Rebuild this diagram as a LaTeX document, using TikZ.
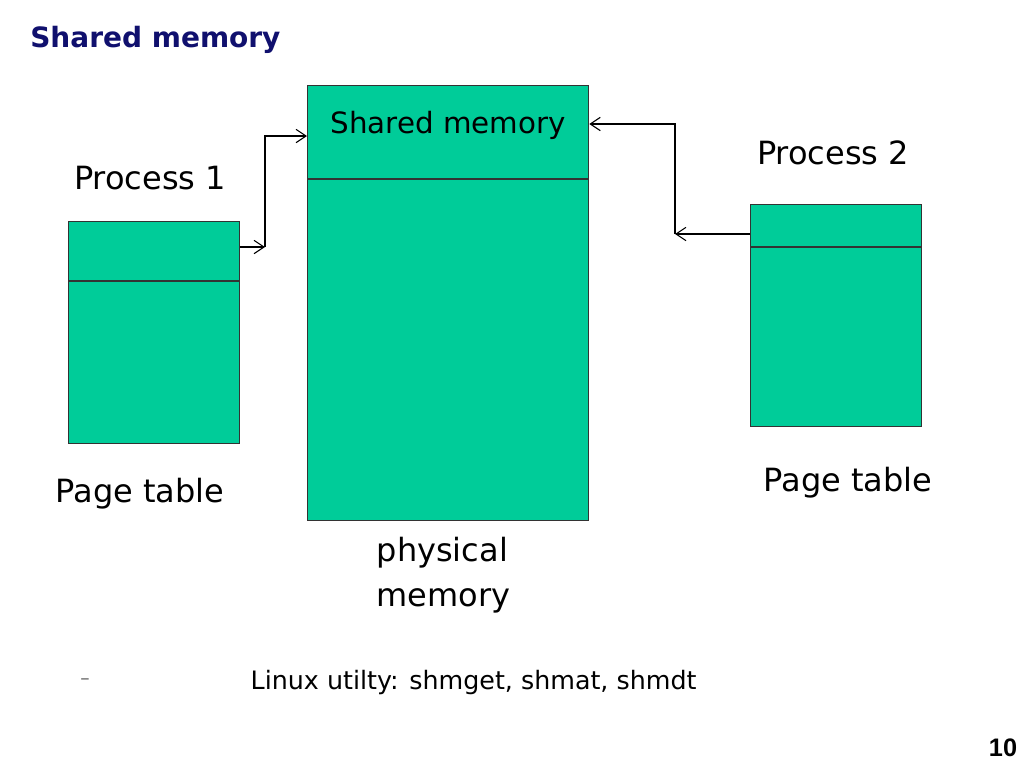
\documentclass[tikz,border=0pt]{standalone}
\usepackage{fontspec}
\setmainfont{DejaVu Sans}
\newfontfamily\numfont{Liberation Sans}
\usetikzlibrary{arrows.meta}
\definecolor{memgreen}{RGB}{0,204,153}
\definecolor{titleblue}{RGB}{16,16,110}
\begin{document}
\begin{tikzpicture}[x=0.75pt, y=-0.75pt,
    tbl/.style={draw=black!80, fill=memgreen, line width=1pt, anchor=north west, inner sep=0pt},
    lbl/.style={font=\fontsize{24}{34}\selectfont},
    link/.style={-{Straight Barb[length=7.5pt,width=10pt]}, line width=0.8pt}]
\useasboundingbox (0,0) rectangle (1024,768);
\node(title) [anchor=base west, inner sep=0pt, text=titleblue, font=\fontsize{21}{24}\selectfont\bfseries] at (30,47) {Shared memory};
% page tables and physical memory
\node(lpt) [tbl, minimum width=128.25pt, minimum height=166.5pt] at (68,221) {};
\node(phys) [tbl, minimum width=210.75pt, minimum height=326.25pt] at (307,85) {};
\node(rpt) [tbl, minimum width=128.25pt, minimum height=166.5pt] at (750,204) {};
\draw[draw=black!80, line width=1pt] (lpt.west |- 0,281) -- (lpt.east |- 0,281);
\draw[draw=black!80, line width=1pt] (phys.west |- 0,179) -- (phys.east |- 0,179);
\draw[draw=black!80, line width=1pt] (rpt.west |- 0,247) -- (rpt.east |- 0,247);
\node(shm) [font=\fontsize{22}{26}\selectfont] at (448,125) {Shared memory};
% labels
\node(p1) [lbl] at (150,178) {Process 1};
\node(p2) [lbl] at (833,153) {Process 2};
\node(lptlbl) [lbl] at (140,494) {Page table};
\node(rptlbl) [lbl] at (848,483) {Page table};
\node(physlbl) [lbl, anchor=west, align=left] at (372,575) {physical\\memory};
% mappings
\coordinate(lbend) at (265,247);
\coordinate(rbend) at (675,234);
\draw[link] (lpt.east |- lbend) -- (lbend);
\draw[link] (lbend) |- (phys.west |- 0,136);
\draw[link] (rpt.west |- rbend) -- (rbend);
\draw[link] (rbend) |- (phys.east |- 0,124);
% footer
\node(dash) [text=black!60, font=\fontsize{14}{16}\selectfont] at (85,682) {–};
\node(util) [anchor=west, font=\fontsize{19}{22}\selectfont] at (246,682) {Linux utilty: shmget, shmat, shmdt};
\node(pgno) [font=\fontsize{19}{22}\selectfont\numfont\bfseries] at (1003,748) {10};
\end{tikzpicture}
\end{document}
